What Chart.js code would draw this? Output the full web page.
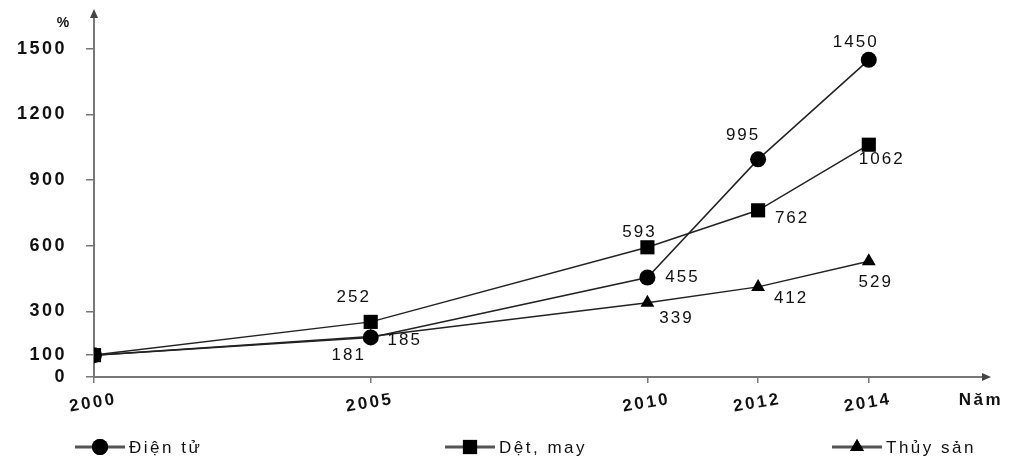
<!DOCTYPE html>
<html>
<head>
<meta charset="utf-8">
<script src="https://cdn.jsdelivr.net/npm/chart.js@4.4.0/dist/chart.umd.min.js"></script>
<style>
  body { margin: 0; background: #fff; }
  #wrap { width: 1011px; height: 462px; }
</style>
</head>
<body>
<div id="wrap"><canvas id="myChart" width="1011" height="462"></canvas></div>
<script>
// du lieu
var years = [2000, 2005, 2010, 2012, 2014];
var dienTu = [100, 181, 455, 995, 1450];
var detMay = [100, 252, 593, 762, 1062];
var thuySan = [100, 185, 339, 412, 529];
var yTicks = [0, 100, 300, 600, 900, 1200, 1500];
var seriesNames = ['Điện tử', 'Dệt, may', 'Thủy sản'];

// offsets of the value labels (px), per series, per point
var labelOffsets = [
  [null, [-23, 18], [34, 0], [-16, -24], [-14, -18]],
  [null, [-18, -25], [-9, -15], [33, 8], [12, 15]],
  [null, [33, 4], [28, 15], [32, 11], [6, 21]]
];

var ink = '#222';
var axisGray = '#777';

function pts(vals) {
  return years.map(function (y, i) { return { x: y, y: vals[i] }; });
}

var extras = {
  id: 'extras',
  beforeDraw: function (chart) {
    chart.ctx.letterSpacing = '2.5px';
  },
  afterDatasetsDraw: function (chart) {
    var ctx = chart.ctx;
    ctx.save();
    ctx.letterSpacing = '2px';
    ctx.fillStyle = '#111';
    ctx.font = '17px "Liberation Sans", Arial, sans-serif';
    ctx.textAlign = 'center';
    ctx.textBaseline = 'middle';
    chart.data.datasets.forEach(function (ds, di) {
      var meta = chart.getDatasetMeta(di);
      meta.data.forEach(function (el, i) {
        var off = labelOffsets[di][i];
        if (!off) return;
        ctx.fillText(String(ds.data[i].y), el.x + off[0] + 1, el.y + off[1]);
      });
    });
    ctx.restore();
  },
  afterDraw: function (chart) {
    var ctx = chart.ctx;
    var xs = chart.scales.x;
    var left = chart.chartArea.left, bottom = chart.chartArea.bottom;
    var top = chart.chartArea.top, right = chart.chartArea.right;
    ctx.save();
    // arrows
    ctx.fillStyle = '#444';
    ctx.beginPath();
    ctx.moveTo(left, top - 6); ctx.lineTo(left - 4, top + 3); ctx.lineTo(left + 4, top + 3);
    ctx.closePath(); ctx.fill();
    ctx.beginPath();
    ctx.moveTo(right + 6, bottom); ctx.lineTo(right - 3, bottom - 4); ctx.lineTo(right - 3, bottom + 4);
    ctx.closePath(); ctx.fill();

    // x tick labels, slightly rotated
    ctx.fillStyle = '#111';
    ctx.letterSpacing = '2.5px';
    ctx.font = 'bold 17px "Liberation Sans", Arial, sans-serif';
    ctx.textAlign = 'center';
    ctx.textBaseline = 'middle';
    years.forEach(function (y) {
      var px = xs.getPixelForValue(y);
      ctx.save();
      ctx.translate(px - 1, bottom + 26);
      ctx.rotate(-0.16);
      ctx.fillText(String(y), 0, 0);
      ctx.restore();
    });
    ctx.fillText('Năm', 981, bottom + 23);
    ctx.font = 'bold 14px "Liberation Sans", Arial, sans-serif';
    ctx.letterSpacing = '0px';
    ctx.fillText('%', 63, 23);

    // legend
    var legendY = 447;
    var items = [[75, 'circle'], [445, 'rect'], [832, 'triangle']];
    ctx.font = '17px "Liberation Sans", Arial, sans-serif';
    ctx.letterSpacing = '2.5px';
    ctx.textAlign = 'left';
    items.forEach(function (it, k) {
      var x0 = it[0];
      ctx.strokeStyle = '#555';
      ctx.lineWidth = 3;
      ctx.beginPath(); ctx.moveTo(x0, legendY); ctx.lineTo(x0 + 50, legendY); ctx.stroke();
      ctx.fillStyle = '#000';
      var r = k === 1 ? 10 : 8;
      Chart.helpers.drawPoint(ctx, { pointStyle: it[1], radius: r, borderWidth: 0 }, x0 + 25, legendY);
      ctx.fill();
      ctx.fillStyle = '#111';
      ctx.fillText(seriesNames[k], x0 + 54, legendY + 1);
    });
    ctx.restore();
  }
};

function makeSet(label, vals, style, radius) {
  return {
    label: label,
    data: pts(vals),
    borderColor: ink,
    borderWidth: 1.5,
    backgroundColor: '#000',
    pointBackgroundColor: '#000',
    pointBorderColor: '#000',
    pointBorderWidth: 0,
    pointStyle: style,
    pointRadius: radius,
    pointHoverRadius: radius,
    tension: 0,
    fill: false
  };
}

var chart = new Chart(document.getElementById('myChart').getContext('2d'), {
  type: 'line',
  data: {
    datasets: [
      makeSet(seriesNames[0], dienTu, 'circle', 8),
      makeSet(seriesNames[1], detMay, 'rect', 10),
      makeSet(seriesNames[2], thuySan, 'triangle', 8)
    ]
  },
  options: {
    responsive: false,
    animation: false,
    layout: { padding: { top: 15, right: 26, left: 0, bottom: 0 } },
    plugins: { legend: { display: false }, tooltip: { enabled: false } },
    scales: {
      x: {
        type: 'linear',
        min: 2000,
        max: 2016.1,
        afterBuildTicks: function (scale) {
          scale.ticks = years.map(function (v) { return { value: v }; });
        },
        afterFit: function (scale) {
          scale.height = 85;
          scale.paddingLeft = 0;
          scale.paddingRight = 0;
        },
        grid: { drawOnChartArea: false, drawTicks: true, tickLength: 6, color: axisGray, lineWidth: 1.5 },
        border: { display: true, color: axisGray, width: 2 },
        ticks: { display: false }
      },
      y: {
        min: 0,
        max: 1655,
        afterBuildTicks: function (scale) {
          scale.ticks = yTicks.map(function (v) { return { value: v }; });
        },
        afterFit: function (scale) {
          scale.width = 94;
          scale.paddingTop = 0;
          scale.paddingBottom = 0;
        },
        grid: { drawOnChartArea: false, drawTicks: true, tickLength: 8, color: axisGray, lineWidth: 1.5 },
        border: { display: true, color: axisGray, width: 2 },
        ticks: {
          padding: 19,
          color: '#111',
          callback: function (v) { return String(v); },
          font: { family: '"Liberation Sans", Arial, sans-serif', size: 18, weight: 'bold' }
        }
      }
    }
  },
  plugins: [extras]
});
</script>
</body>
</html>
